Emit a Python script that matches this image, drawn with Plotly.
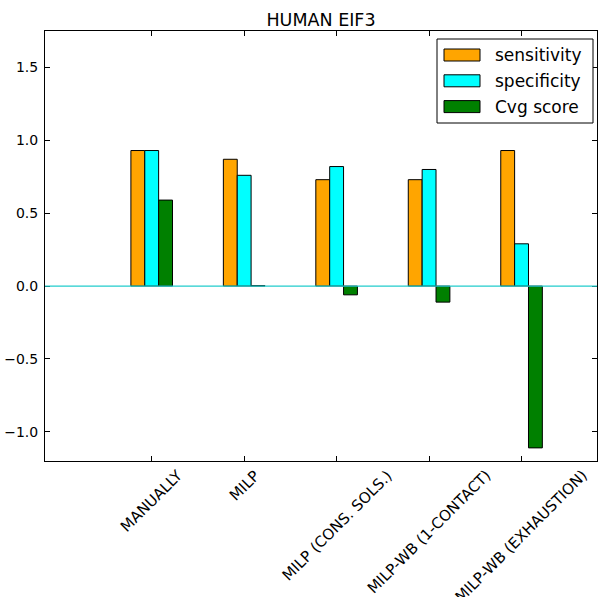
import plotly.graph_objects as go

# Methods compared and their scores
methods = ["MANUALLY", "MILP", "MILP (CONS. SOLS.)", "MILP-WB (1-CONTACT)", "MILP-WB (EXHAUSTION)"]
sensitivity = [0.93, 0.87, 0.73, 0.73, 0.93]
specificity = [0.93, 0.76, 0.82, 0.80, 0.29]
cvg_score = [0.59, 0.003, -0.06, -0.11, -1.11]

series_names = ["sensitivity", "specificity", "Cvg score"]
series_colors = ["#FFA500", "#00FFFF", "#008000"]
series_values = [sensitivity, specificity, cvg_score]

FONT = "DejaVu Sans"
W, H = 598, 597
L, R, T, B = 45, 1, 31, 136
bar_w = 0.15
offsets = [-bar_w, 0.0, bar_w]
xpos = list(range(len(methods)))

fig = go.Figure()
for name, color, vals, off in zip(series_names, series_colors, series_values, offsets):
    fig.add_trace(go.Bar(
        x=[i + off for i in xpos], y=vals, width=bar_w, name=name,
        marker=dict(color=color, line=dict(color="black", width=1)),
        showlegend=False,
    ))

# Horizontal reference line at zero
fig.add_shape(type="line", xref="paper", yref="y", x0=0, x1=1, y0=0, y1=0,
              line=dict(color="#22CCCC", width=1.3), layer="above")

# Rotated category labels, centred under each tick
for i, m in enumerate(methods):
    fig.add_annotation(x=i, y=0, xref="x", yref="paper", text=m, showarrow=False,
                       textangle=-45, xanchor="center", yanchor="top", yshift=-3,
                       font=dict(family=FONT, size=15, color="black"))

# Legend box drawn in pixel-based paper coordinates
pw, ph = W - L - R, H - T - B
def px(x):
    return (x - L) / pw
def py(y):
    return 1 - (y - T) / ph

fig.add_shape(type="rect", xref="paper", yref="paper",
              x0=px(437), x1=px(593), y0=py(39), y1=py(123),
              line=dict(color="black", width=1), fillcolor="white", layer="above")
for k, (name, color) in enumerate(zip(series_names, series_colors)):
    yc = 55 + k * 25.8
    fig.add_shape(type="rect", xref="paper", yref="paper",
                  x0=px(444), x1=px(480), y0=py(yc - 6), y1=py(yc + 6),
                  line=dict(color="black", width=1), fillcolor=color, layer="above")
    fig.add_annotation(x=px(493), y=py(yc), xref="paper", yref="paper", text=name,
                       showarrow=False, xanchor="left", yanchor="middle",
                       font=dict(family=FONT, size=17, color="black"))

axis_common = dict(showline=True, linecolor="black", linewidth=1, mirror="ticks",
                   ticks="inside", ticklen=5, tickcolor="black", showgrid=False,
                   zeroline=False)

fig.update_layout(
    width=W, height=H,
    margin=dict(l=L, r=R, t=T, b=B),
    paper_bgcolor="white", plot_bgcolor="white",
    title=dict(text="HUMAN EIF3", x=(L + (W - R)) / 2 / W, xanchor="center",
               y=1 - 20 / H, yanchor="middle", yref="container",
               font=dict(family=FONT, size=17.5, color="black")),
    xaxis=dict(range=[-1.154, 4.816], tickvals=xpos, showticklabels=False, **axis_common),
    yaxis=dict(range=[-1.2, 1.75], tickvals=[-1.0, -0.5, 0.0, 0.5, 1.0, 1.5],
               ticktext=["\u22121.0", "\u22120.5", "0.0", "0.5", "1.0", "1.5"],
               tickfont=dict(family=FONT, size=14, color="black"), ticklabelstandoff=3,
               **axis_common),
    barmode="overlay",
    font=dict(family=FONT),
)

fig.write_html("out.html")
